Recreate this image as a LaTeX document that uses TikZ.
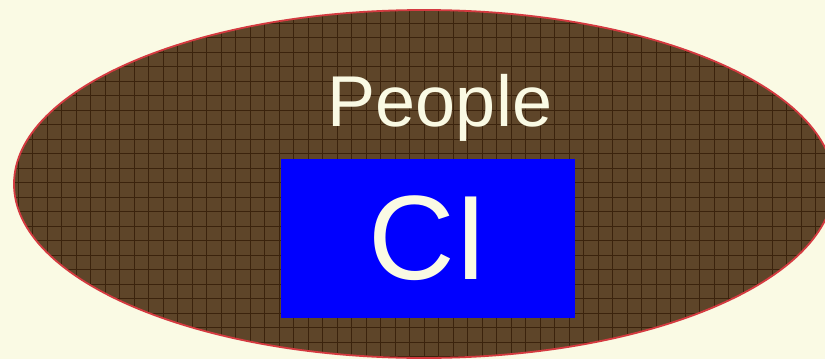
\documentclass[tikz,border=0pt]{standalone}
\usepackage{fontspec}
\setmainfont{Liberation Sans}
\definecolor{creme}{HTML}{FAFAE4}
\definecolor{brun}{HTML}{5E4529}
\definecolor{brunfonce}{HTML}{3B230D}
\definecolor{rouge}{HTML}{D43A40}
\begin{document}
\begin{tikzpicture}[x=1pt,y=-1pt,
    ligne/.style={brunfonce, line width=0.9pt},
    boite/.style={fill=blue, text=creme, minimum width=294pt, minimum height=159pt, inner sep=0pt}]
  % Le fond
  \fill[creme] (0,0) rectangle (825,359);
  \useasboundingbox (0,0) rectangle (825,359);

  % L'ellipse et sa grille
  \begin{scope}
    \clip (424,184) ellipse (410 and 174);
    \fill[brun] (0,0) rectangle (850,370);
    \foreach \i in {0,...,58} \draw[ligne] ({3.5+14.5*\i},0) -- ++(0,370);
    \foreach \j in {0,...,25} \draw[ligne] (0,{8.5+14.5*\j}) -- ++(850,0);
  \end{scope}
  \draw[rouge, line width=1.8pt] (424,184) ellipse (410 and 174);

  % Les textes
  \node[anchor=base, text=creme, font=\fontsize{72}{72}\selectfont] (people) at (440,126) {People};
  \node[boite, font=\fontsize{120}{120}\selectfont] (ci) at (428,238.5) {CI};
\end{tikzpicture}
\end{document}
